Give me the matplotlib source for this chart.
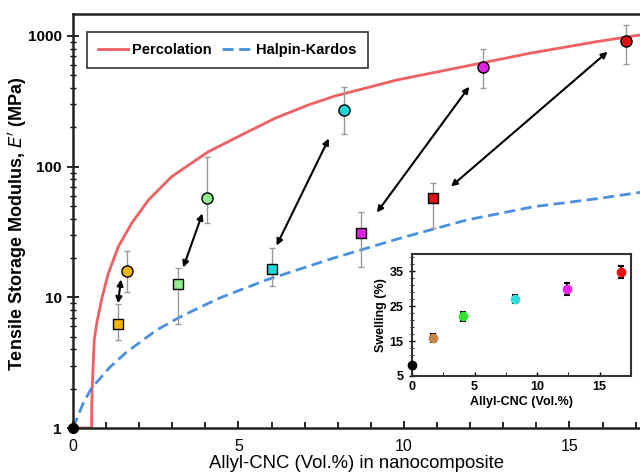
import numpy as np
import matplotlib
matplotlib.use("Agg")
import matplotlib.pyplot as plt
from matplotlib.ticker import FixedLocator, MultipleLocator, LogLocator, NullFormatter

plt.rcParams['font.family'] = ['Liberation Sans', 'DejaVu Sans']

# model curves
perc_x = [0, 0.56, 0.565, 0.58, 0.64, 0.72, 0.87, 1.07, 1.37, 1.77, 2.28, 2.98, 4.09,
          5.10, 6.10, 7.11, 7.92, 9.79, 10.79, 12.36, 13.8, 15.82, 17.13]
perc_y = [1, 1, 1.5, 2.0, 4.7, 6.4, 9.8, 15.3, 24.4, 36.8, 55.5, 83.8, 130,
          175, 234, 296, 347, 460, 517, 621, 736, 903, 1016]

hk_x = [0, 0.31, 0.56, 1.12, 1.62, 2.53, 3.18, 3.84, 4.44, 5.85, 7.86, 9.88, 11.89,
        13.91, 15.92, 17.13]
hk_y = [1, 1.55, 2.02, 2.93, 3.81, 5.62, 6.95, 8.4, 9.9, 13.6, 19.9, 28.3, 39.0,
        49.3, 57.2, 63.5]

# experimental points
sq_x = [1.36, 3.18, 6.0, 8.7, 10.88]
sq_y = [6.2, 12.6, 16.4, 30.8, 58]
sq_lo = [4.7, 6.3, 12.1, 17, 34]
sq_hi = [8.85, 16.7, 24, 45, 75.5]

ci_x = [1.63, 4.06, 8.18, 12.4, 16.7]
ci_y = [15.8, 57, 272, 580, 915]
ci_lo = [10.9, 36.7, 179, 400, 611]
ci_hi = [22.5, 119, 409, 795, 1213]

main_colors = ['#f2b705', '#90ee90', '#1fd6d6', '#e020e0', '#dd1111']

# arrows (start, end)
arr_start = [(1.45, 13.7), (3.33, 16.9), (6.15, 24.9), (9.18, 44.5), (11.42, 70.4)]
arr_end = [(1.36, 9.0), (3.91, 43.8), (7.73, 164), (11.97, 408), (16.15, 755)]

# inset data
sw_x = [0, 1.7, 4.1, 8.25, 12.4, 16.7]
sw_y = [8.1, 15.9, 22.1, 27.0, 30.0, 34.9]
sw_err = [0.3, 1.1, 1.4, 1.1, 1.8, 1.7]
sw_colors = ['#000000', '#c8874a', '#33e033', '#33dddd', '#ee22ee', '#ee1111']

fig = plt.figure(figsize=(6.4, 4.75), dpi=100)
ax = fig.add_axes([73/640, 47/475, 567/640, 414/475])

ax.plot(perc_x, perc_y, color='#f06060', lw=2, label='Percolation', zorder=2,
        solid_joinstyle='round')
ax.plot(hk_x, hk_y, color='#4a90e2', lw=2, ls=(0, (4, 2)), label='Halpin-Kardos', zorder=2)

for i in range(len(sq_x)):
    ax.errorbar(sq_x[i], sq_y[i], yerr=[[sq_y[i] - sq_lo[i]], [sq_hi[i] - sq_y[i]]],
                fmt='s', color='#999999', elinewidth=1, capsize=2, capthick=1,
                mfc=main_colors[i], mec='black', mew=1, ms=7, zorder=3)
    ax.errorbar(ci_x[i], ci_y[i], yerr=[[ci_y[i] - ci_lo[i]], [ci_hi[i] - ci_y[i]]],
                fmt='o', color='#999999', elinewidth=1, capsize=2, capthick=1,
                mfc=main_colors[i], mec='black', mew=1, ms=8, zorder=3)

ax.plot([0], [1], 'o', color='black', ms=7, clip_on=False, zorder=5)

for s, e in zip(arr_start, arr_end):
    ax.annotate('', xy=e, xytext=s,
                arrowprops=dict(arrowstyle='<|-|>', color='black', lw=1.5,
                                mutation_scale=9, shrinkA=0, shrinkB=0))

ax.set_yscale('log')
ax.set_xlim(0, 17.13)
ax.set_ylim(1, 1470)
ax.set_yticks([1, 10, 100, 1000])
ax.set_yticklabels(['1', '10', '100', '1000'], fontweight='bold', fontsize=11)
ax.yaxis.set_minor_locator(LogLocator(base=10, subs=np.arange(2, 10)))
ax.yaxis.set_minor_formatter(NullFormatter())
ax.set_xticks([0, 5, 10, 15])
ax.set_xticklabels(['0', '5', '10', '15'], fontsize=11.5)
ax.xaxis.set_minor_locator(MultipleLocator(1))
ax.tick_params(axis='x', which='major', direction='in', length=5, width=1.2, pad=8)
ax.tick_params(axis='x', which='minor', direction='in', length=4, width=1.2)
ax.tick_params(axis='y', which='major', direction='inout', length=9, width=1.2)
ax.tick_params(axis='y', which='minor', direction='inout', length=5, width=1)
for sp in ['left', 'bottom', 'top']:
    ax.spines[sp].set_linewidth(1.8)
    ax.spines[sp].set_color('#222222')
ax.spines['right'].set_visible(False)

ax.set_xlabel('Allyl-CNC (Vol.%) in nanocomposite', fontsize=13.3, labelpad=1)
ax.set_ylabel("Tensile Storage Modulus, $\\boldsymbol{E'}$ (MPa)", fontsize=13,
              fontweight='bold')
ax.yaxis.set_label_coords(-0.077, 0.493)

leg = ax.legend(loc='upper left', bbox_to_anchor=(0.0247, 0.9565), ncol=2, frameon=True,
                fancybox=False, edgecolor='black', prop={'weight': 'bold', 'size': 10.5},
                handlelength=2.05, handletextpad=0.3, columnspacing=0.7,
                borderpad=0.75, borderaxespad=0)
leg.get_frame().set_linewidth(1.2)

# inset
ins = fig.add_axes([412/640, 99/475, 219/640, 122/475])
for i in range(len(sw_x)):
    ins.errorbar(sw_x[i], sw_y[i], yerr=sw_err[i], fmt='o', color='black', elinewidth=1.5,
                 capsize=2, capthick=1.5, mfc=sw_colors[i], mec=sw_colors[i], ms=6,
                 clip_on=False, zorder=3)
ins.set_xlim(0, 17.5)
ins.set_ylim(5, 40)
ins.set_xticks([0, 5, 10, 15])
ins.set_yticks([5, 15, 25, 35])
ins.xaxis.set_minor_locator(MultipleLocator(2.5))
ins.yaxis.set_minor_locator(FixedLocator(np.arange(5, 41, 2)))
ins.tick_params(axis='both', which='major', labelsize=9, width=1)
ins.tick_params(axis='x', which='both', direction='in', length=3)
ins.tick_params(axis='y', which='major', direction='inout', length=5)
ins.tick_params(axis='y', which='minor', direction='inout', length=3)
for lab in ins.get_xticklabels() + ins.get_yticklabels():
    lab.set_fontweight('bold')
for sp in ins.spines.values():
    sp.set_linewidth(1.5)
    sp.set_color('#333333')
ins.set_xlabel('Allyl-CNC (Vol.%)', fontsize=9, fontweight='bold', labelpad=2)
ins.set_ylabel('Swelling (%)', fontsize=9, fontweight='bold', labelpad=2)

fig.savefig('out.png', dpi=100)
